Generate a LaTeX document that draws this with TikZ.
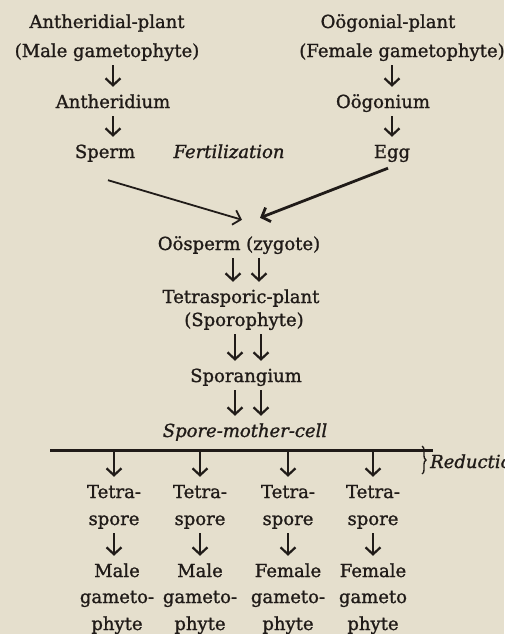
\documentclass[tikz,border=0pt]{standalone}
\usepackage{fontspec}
\setmainfont{DejaVu Serif}[FakeBold=1.2]
\usepackage{tikz}
\usetikzlibrary{arrows.meta, positioning, calc, decorations.pathreplacing}
\definecolor{paper}{RGB}{229,223,205}
\definecolor{ink}{RGB}{32,27,24}

\begin{document}
\begin{tikzpicture}[x=1pt, y=-1pt, >={Straight Barb[length=7pt,width=15pt]},
  every node/.style={ink, font=\fontsize{18}{22}\selectfont, anchor=base, inner sep=1pt, text height=14pt, text depth=5pt},
  stem/.style={->, ink, line width=2.2pt, shorten <=2pt, shorten >=6pt}]
\fill[paper] (0,0) rectangle (504,634);
\useasboundingbox (0,0) rectangle (504,634);
% gametophytes
\node (ap1) at (107,28) {Antheridial-plant};
\node (ap2) at (107,57) {(Male gametophyte)};
\node (anm) at (113,108) {Antheridium};
\node (sperm) at (105,158) {Sperm};
\node (fert) at (229,158) {\itshape Fertilization};
\node (op1) at (388,28) {Oögonial-plant};
\node (op2) at (402,57) {(Female gametophyte)};
\node (oog) at (383,108) {Oögonium};
\node (egg) at (392,158) {Egg};
\draw[stem] (anm.north|-ap2.south) -- (anm.north);
\draw[stem] (anm.south) -- (anm.south|-sperm.north);
\draw[stem] (egg.north|-op2.south) -- (egg.north|-oog.north);
\draw[stem] (egg.north|-oog.south) -- (egg.north);
% sporophyte
\node (osp) at (239,250) {Oösperm (zygote)};
\node (tsp1) at (241,303) {Tetrasporic-plant};
\node (tsp2) at (244,326) {(Sporophyte)};
\node (spg) at (246,382) {Sporangium};
\node (smc) at (245,437) {\itshape Spore-mother-cell};
\draw[->, ink, line width=1.8pt] ([shift={(3,16)}]sperm.south) -- ([shift={(3,-15)}]osp.north);
\draw[->, ink, line width=2.8pt] ([shift={(-4,4)}]egg.south) -- ([shift={(21,-17)}]osp.north);
\draw[stem] ($(spg.north|-osp.south)+(-13,0)$) -- ($(spg.north|-tsp1.north)+(-13,0)$);
\draw[stem] ($(spg.north|-osp.south)+(13,0)$) -- ($(spg.north|-tsp1.north)+(13,0)$);
\draw[stem] ($(spg.north|-tsp2.south)+(-11,0)$) -- ($(spg.north)+(-11,0)$);
\draw[stem] ($(spg.north|-tsp2.south)+(15,0)$) -- ($(spg.north)+(15,0)$);
\draw[stem] ($(spg.south)+(-11,0)$) -- ($(spg.south|-smc.north)+(-11,0)$);
\draw[stem] ($(spg.south)+(15,0)$) -- ($(spg.south|-smc.north)+(15,0)$);
% reduction division
\coordinate (barL) at (50,450);
\coordinate (barR) at (433,450);
\draw[ink, line width=3pt] (barL) -- (barR);
\draw[ink, line width=1.4pt, decorate, decoration={brace, amplitude=4pt}] (422,446) -- (422,474);
\node[anchor=base west] (red) at (429,468) {\itshape Reduction};
% tetraspores
\node (ts1) at (114,498) {Tetra-};
\node (ts2) at (200,498) {Tetra-};
\node (ts3) at (288,498) {Tetra-};
\node (ts4) at (373,498) {Tetra-};
\node (sp1) at (114,525) {spore};
\node (sp2) at (200,525) {spore};
\node (sp3) at (288,525) {spore};
\node (sp4) at (373,525) {spore};
\draw[stem] (ts1.north|-barL) -- (ts1.north);
\draw[stem] (ts2.north|-barL) -- (ts2.north);
\draw[stem] (ts3.north|-barL) -- (ts3.north);
\draw[stem] (ts4.north|-barL) -- (ts4.north);
% gametophytes again
\node (mg1) at (117,577) {Male};
\node (mg2) at (200,577) {Male};
\node (mg3) at (288,577) {Female};
\node (mg4) at (373,577) {Female};
\node (gm1) at (117,603) {gameto-};
\node (gm2) at (200,603) {gameto-};
\node (gm3) at (288,603) {gameto-};
\node (gm4) at (373,603) {gameto};
\node (ph1) at (117,630) {phyte};
\node (ph2) at (200,630) {phyte};
\node (ph3) at (288,630) {phyte};
\node (ph4) at (373,630) {phyte};
\draw[stem] (sp1.south) -- (sp1.south|-mg1.north);
\draw[stem] (sp2.south) -- (sp2.south|-mg2.north);
\draw[stem] (sp3.south) -- (sp3.south|-mg3.north);
\draw[stem] (sp4.south) -- (sp4.south|-mg4.north);
\end{tikzpicture}
\end{document}
